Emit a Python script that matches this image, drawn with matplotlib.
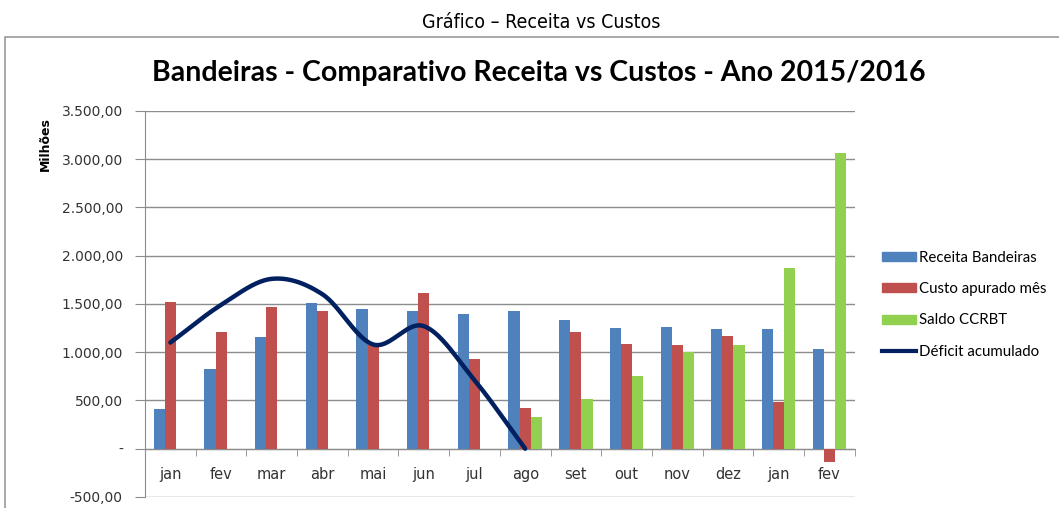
import numpy as np
import matplotlib.pyplot as plt
from matplotlib.patches import Rectangle
from matplotlib.lines import Line2D
from matplotlib.ticker import FuncFormatter

# --- data (R$ milhões) ---
months = ['jan', 'fev', 'mar', 'abr', 'mai', 'jun', 'jul', 'ago',
          'set', 'out', 'nov', 'dez', 'jan', 'fev']
receita = [410, 830, 1155, 1505, 1450, 1425, 1400, 1430,
           1335, 1250, 1262, 1240, 1240, 1035]
custo = [1520, 1208, 1465, 1428, 1075, 1618, 928, 421,
         1208, 1087, 1074, 1170, 479, -142]
saldo = [np.nan] * 7 + [328, 515, 749, 1001, 1074, 1877, 3062]
deficit = [1100, 1490, 1760, 1600, 1080, 1270, 710, 0]

C_BLUE = '#4F81BD'
C_RED = '#C0504D'
C_GREEN = '#92D050'
C_NAVY = '#002060'
GRID = '#8C8C8C'


def catmull_rom(xs, ys, n=40):
    # smooth curve through the points, like Excel's "smoothed line"
    xs = np.asarray(xs, float)
    ys = np.asarray(ys, float)
    px = np.concatenate([[2 * xs[0] - xs[1]], xs, [2 * xs[-1] - xs[-2]]])
    py = np.concatenate([[2 * ys[0] - ys[1]], ys, [2 * ys[-1] - ys[-2]]])
    out_x, out_y = [], []
    t = np.linspace(0, 1, n)
    for i in range(1, len(px) - 2):
        for p, out in ((px, out_x), (py, out_y)):
            p0, p1, p2, p3 = p[i - 1], p[i], p[i + 1], p[i + 2]
            out.extend(0.5 * ((2 * p1) + (-p0 + p2) * t
                              + (2 * p0 - 5 * p1 + 4 * p2 - p3) * t ** 2
                              + (-p0 + 3 * p1 - 3 * p2 + p3) * t ** 3))
    return np.array(out_x), np.array(out_y)


fig = plt.figure(figsize=(10.59, 5.08), dpi=100)

# page caption and chart frame
fig.text(0.511, 0.955, 'Gráfico – Receita vs Custos', ha='center', va='center',
         fontsize=14, stretch='condensed',
         family=['Liberation Sans Narrow', 'DejaVu Sans Condensed', 'DejaVu Sans'])
fig.patches.append(Rectangle((0.005, -0.05), 1.2, 0.978, transform=fig.transFigure,
                             fill=False, edgecolor='#9A9A9A', linewidth=1.2))
fig.text(0.509, 0.857, 'Bandeiras - Comparativo Receita vs Custos - Ano 2015/2016',
         ha='center', va='center', fontsize=20.5, fontweight='bold',
         family=['Lato', 'DejaVu Sans'])

ax = fig.add_axes([0.137, 0.0217, 0.67, 0.76])

x = np.arange(len(months))
w = 0.22
ax.bar(x - w, receita, w, color=C_BLUE, zorder=3, label='Receita Bandeiras')
ax.bar(x, custo, w, color=C_RED, zorder=3, label='Custo apurado mês')
ax.bar(x + w, saldo, w, color=C_GREEN, zorder=3, label='Saldo CCRBT')

sx, sy = catmull_rom(x[:len(deficit)], deficit)
ax.plot(sx, sy, color=C_NAVY, linewidth=3.2, solid_capstyle='round', zorder=4)

ax.set_xlim(-0.5, len(months) - 0.5)
ax.set_ylim(-500, 3500)
ax.set_yticks(np.arange(-500, 3501, 500))


def fmt_br(v, pos):
    if v == 0:
        return '-'
    s = f'{v:,.2f}'
    return s.replace(',', 'X').replace('.', ',').replace('X', '.')


ax.yaxis.set_major_formatter(FuncFormatter(fmt_br))
ax.tick_params(axis='y', length=7, color=GRID, labelsize=10,
               labelcolor='#333333', pad=9)
ax.grid(axis='y', color=GRID, linewidth=1.0, zorder=0)

# category axis sits on zero, tick marks between the categories
ax.spines['bottom'].set_position(('data', 0))
ax.spines['bottom'].set_color(GRID)
ax.spines['left'].set_color(GRID)
ax.spines['top'].set_visible(False)
ax.spines['right'].set_visible(False)
ax.set_xticks(x)
ax.set_xticklabels(months)
ax.set_xticks(np.arange(-0.5, len(months)), minor=True)
ax.tick_params(axis='x', which='major', length=0, pad=13, labelsize=10.5,
               labelcolor='#333333')
ax.tick_params(axis='x', which='minor', length=5, color=GRID)

ax.set_ylabel('Milhões', fontsize=9, fontweight='bold')
ax.yaxis.set_label_coords(-0.132, 0.915)

handles = [Rectangle((0, 0), 1, 1, color=C_BLUE),
           Rectangle((0, 0), 1, 1, color=C_RED),
           Rectangle((0, 0), 1, 1, color=C_GREEN),
           Line2D([], [], color=C_NAVY, linewidth=3)]
labels = ['Receita Bandeiras', 'Custo apurado mês', 'Saldo CCRBT', 'Déficit acumulado']
fig.legend(handles, labels, loc='center left', bbox_to_anchor=(0.82, 0.4),
           frameon=False, handlelength=2.3, handleheight=0.55,
           handletextpad=0.2, labelspacing=1.15,
           prop={'family': ['Lato', 'DejaVu Sans'], 'size': 10.8})

fig.savefig('out.png', dpi=100)
